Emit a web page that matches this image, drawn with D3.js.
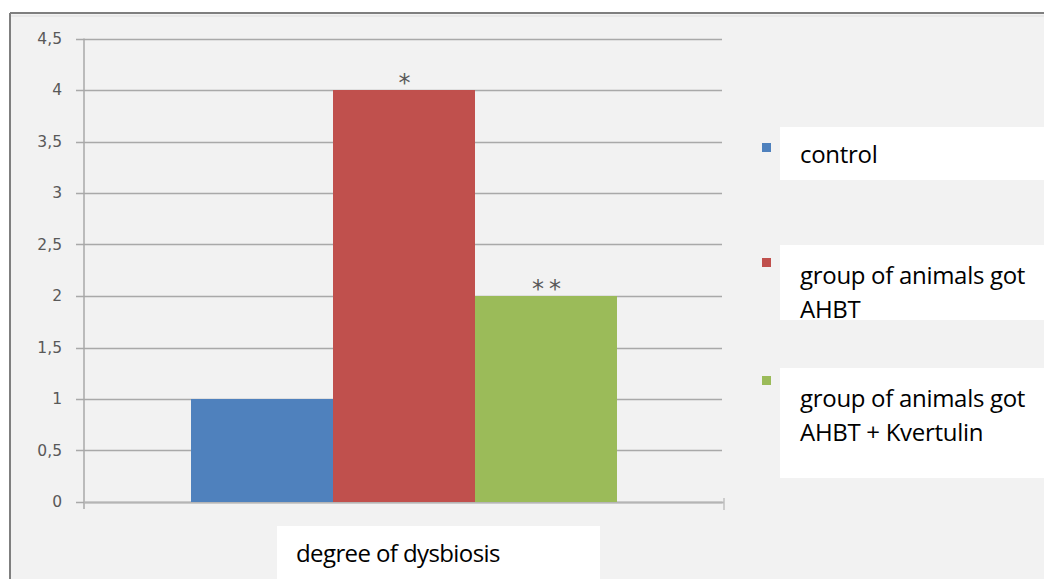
<!DOCTYPE html>
<html>
<head>
<meta charset="utf-8">
<script src="https://cdn.jsdelivr.net/npm/d3@7"></script>
<style>
  html, body { margin: 0; padding: 0; background: #ffffff; }
  svg { display: block; }
</style>
</head>
<body>
<svg id="chart" width="1044" height="579"></svg>
<script>
// Degree of dysbiosis by group
const categories = ["degree of dysbiosis"];
const seriesNames = ["control", "group of animals got AHBT", "group of animals got AHBT + Kvertulin"];
const seriesValues = [1, 4, 2];
const seriesMarks = ["", "*", "**"];
const seriesColors = ["#4f81bd", "#c0504d", "#9bbb59"];
const yTicks = [0, 0.5, 1, 1.5, 2, 2.5, 3, 3.5, 4, 4.5];
const yTickLabels = ["0", "0,5", "1", "1,5", "2", "2,5", "3", "3,5", "4", "4,5"];
// legend text lines per series (second line of the middle entry is clipped by its box)
const legendLines = [["control"], ["group of animals got", "AHBT"], ["group of animals got", "AHBT + Kvertulin"]];

const svg = d3.select("#chart");
const W = 1044, H = 579;

// chart frame
svg.append("rect").attr("x", 10).attr("y", 13).attr("width", W - 10).attr("height", H - 13).attr("fill", "#f2f2f2");
svg.append("line").attr("x1", 10).attr("x2", W).attr("y1", 13).attr("y2", 13).attr("stroke", "#7f7f7f").attr("stroke-width", 2);
svg.append("line").attr("x1", 10).attr("x2", 10).attr("y1", 13).attr("y2", H).attr("stroke", "#7f7f7f").attr("stroke-width", 2);
svg.append("line").attr("x1", 11).attr("x2", W).attr("y1", 16).attr("y2", 16).attr("stroke", "#e8e8e8").attr("stroke-width", 2);

const plotLeft = 84, plotRight = 724, plotTop = 38.5, plotBottom = 502;

const y = d3.scaleLinear().domain([0, 4.5]).range([plotBottom, plotTop]);
const x0 = d3.scaleBand().domain(categories).range([plotLeft, plotRight]).paddingInner(0).paddingOuter(0.2512);
const x1 = d3.scaleBand().domain(seriesNames).range([0, x0.bandwidth()]).padding(0);

// gridlines
svg.append("g")
  .selectAll("line")
  .data(yTicks)
  .join("line")
  .attr("x1", plotLeft - 8)
  .attr("x2", plotRight - 2)
  .attr("y1", d => Math.round(y(d)) + 0.5)
  .attr("y2", d => Math.round(y(d)) + 0.5)
  .attr("stroke", "#a9a9a9")
  .attr("stroke-width", 1.5);

// y axis with comma decimal labels
const yAxis = d3.axisLeft(y)
  .tickValues(yTicks)
  .tickFormat((d, i) => yTickLabels[i])
  .tickSize(0)
  .tickPadding(22);
const gy = svg.append("g").attr("transform", `translate(${plotLeft},0)`).call(yAxis);
gy.select(".domain").remove();
gy.selectAll("text")
  .attr("fill", "#595959")
  .attr("font-family", "'DejaVu Sans', sans-serif")
  .attr("font-size", 15.5);
svg.append("line").attr("x1", plotLeft).attr("x2", plotLeft).attr("y1", plotTop).attr("y2", plotBottom + 7)
  .attr("stroke", "#a9a9a9").attr("stroke-width", 1.5);

// x axis baseline and end tick
svg.append("line").attr("x1", plotLeft).attr("x2", plotRight).attr("y1", plotBottom + 0.5).attr("y2", plotBottom + 0.5)
  .attr("stroke", "#b5b5b5").attr("stroke-width", 2);
svg.append("line").attr("x1", plotRight).attr("x2", plotRight).attr("y1", plotBottom - 4).attr("y2", plotBottom + 8)
  .attr("stroke", "#c0c0c0").attr("stroke-width", 1.5);

// bars
const group = svg.append("g").attr("transform", `translate(${x0(categories[0])},0)`);
group.selectAll("rect")
  .data(seriesValues)
  .join("rect")
  .attr("x", (d, i) => x1(seriesNames[i]))
  .attr("width", x1.bandwidth())
  .attr("y", d => y(d))
  .attr("height", d => y(0) - y(d))
  .attr("fill", (d, i) => seriesColors[i]);

// significance marks above bars
group.selectAll("text.mark")
  .data(seriesValues)
  .join("text")
  .attr("class", "mark")
  .attr("x", (d, i) => x1(seriesNames[i]) + x1.bandwidth() / 2 + 3)
  .attr("y", d => y(d) + 1)
  .attr("text-anchor", "middle")
  .attr("font-family", "'DejaVu Sans', sans-serif")
  .attr("font-size", 24)
  .attr("letter-spacing", 5)
  .attr("fill", "#595959")
  .text((d, i) => seriesMarks[i]);

// category label box
const catBox = svg.append("g");
catBox.append("rect").attr("x", 277).attr("y", 526).attr("width", 323).attr("height", 53).attr("fill", "#ffffff");
catBox.append("text").attr("x", 296).attr("y", 562)
  .attr("font-family", "'Open Sans', sans-serif").attr("font-size", 24).attr("fill", "#000")
  .attr("letter-spacing", -0.6)
  .text(categories[0]);

// legend
const legendBoxes = [
  { top: 127, h: 53, sq: 143, base: 163 },
  { top: 245, h: 75, sq: 258, base: 284 },
  { top: 368, h: 110, sq: 376, base: 407 }
];
const defs = svg.append("defs");
const leg = svg.append("g");
seriesNames.forEach((name, i) => {
  const b = legendBoxes[i];
  defs.append("clipPath").attr("id", "legclip" + i)
    .append("rect").attr("x", 780).attr("y", b.top).attr("width", W - 780).attr("height", b.h);
  leg.append("rect").attr("x", 780).attr("y", b.top).attr("width", W - 780).attr("height", b.h).attr("fill", "#ffffff");
  leg.append("rect").attr("x", 762).attr("y", b.sq).attr("width", 9).attr("height", 9).attr("fill", seriesColors[i]);
  const t = leg.append("text")
    .attr("clip-path", `url(#legclip${i})`)
    .attr("font-family", "'Open Sans', sans-serif").attr("font-size", 24).attr("fill", "#000")
    .attr("letter-spacing", -0.3);
  legendLines[i].forEach((line, j) => {
    t.append("tspan").attr("x", 800).attr("y", b.base + j * 34).text(line);
  });
});
</script>
</body>
</html>
